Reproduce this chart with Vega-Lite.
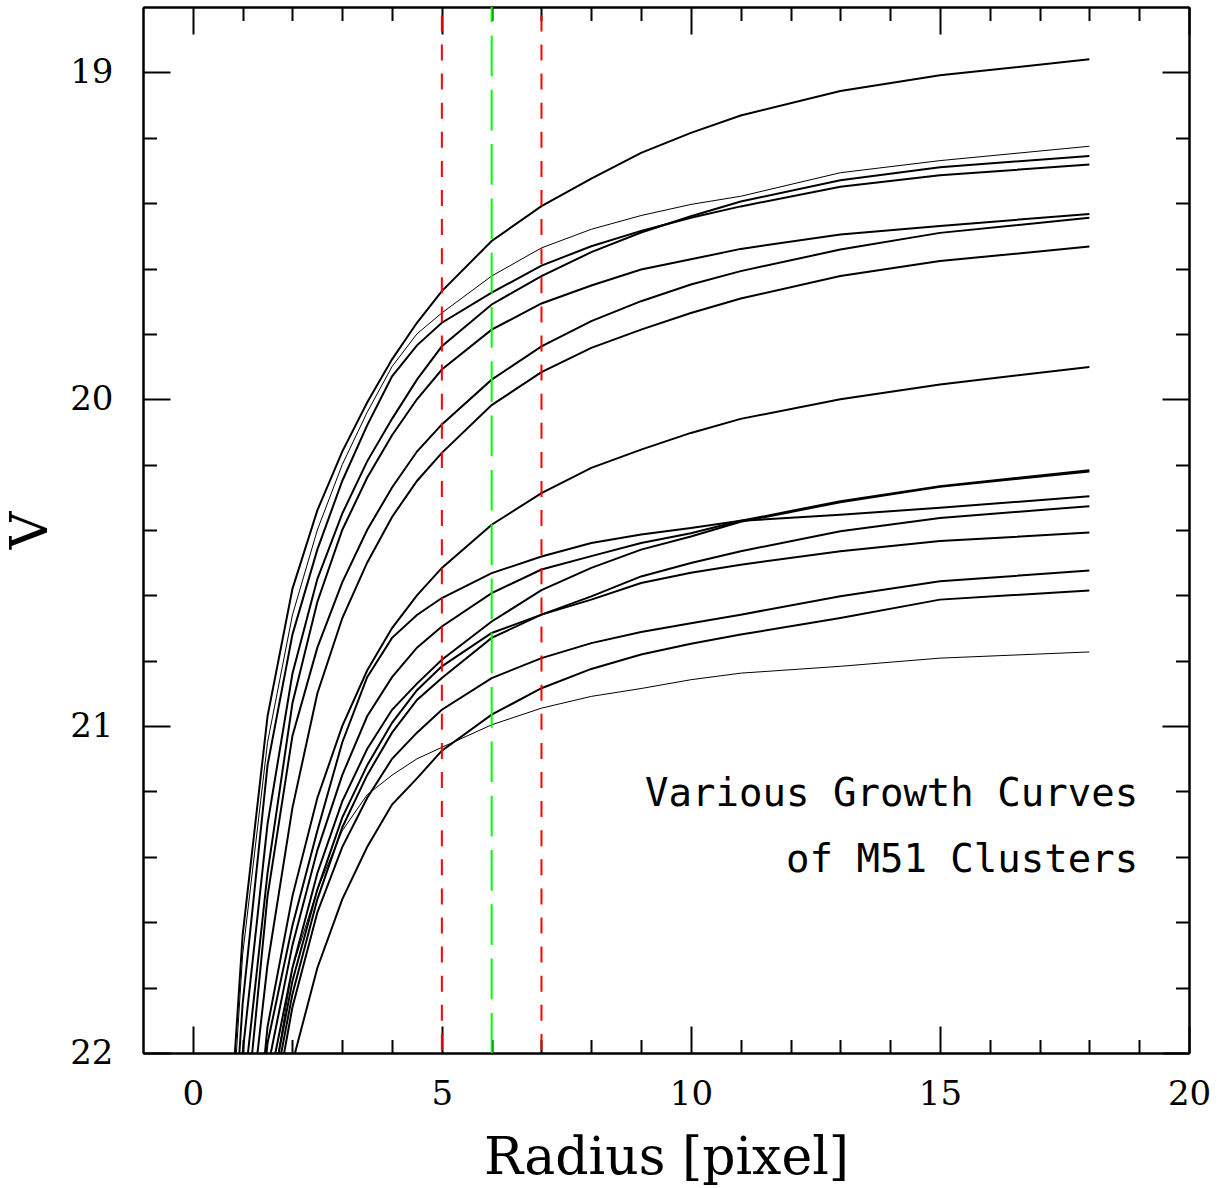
{
  "$schema": "https://vega.github.io/schema/vega-lite/v6.json",
  "width": 1046,
  "height": 1046,
  "autosize": {"type": "none"},
  "padding": {"left": 143, "top": 7, "right": 34, "bottom": 135},
  "background": "white",
  "config": {
    "view": {"stroke": null},
    "axis": {
      "grid": false,
      "domainColor": "black",
      "domainWidth": 2,
      "tickColor": "black",
      "tickWidth": 2,
      "labelColor": "black",
      "labelFont": "DejaVu Serif",
      "labelFontSize": 34,
      "labelFlush": false,
      "labelOverlap": false,
      "labelBound": false,
      "titleColor": "black",
      "titleFont": "DejaVu Serif",
      "titleFontSize": 52,
      "titleFontWeight": "normal"
    }
  },
  "datasets": {
    "growth": [
      {"cluster":"c01","r":0.5,"V":22.80},{"cluster":"c01","r":1,"V":21.64},{"cluster":"c01","r":1.5,"V":20.97},{"cluster":"c01","r":2,"V":20.58},{"cluster":"c01","r":2.5,"V":20.34},{"cluster":"c01","r":3,"V":20.16},{"cluster":"c01","r":3.5,"V":20.01},{"cluster":"c01","r":4,"V":19.878},{"cluster":"c01","r":4.5,"V":19.766},{"cluster":"c01","r":5,"V":19.669},{"cluster":"c01","r":6,"V":19.516},{"cluster":"c01","r":7,"V":19.409},{"cluster":"c01","r":8,"V":19.325},{"cluster":"c01","r":9,"V":19.246},{"cluster":"c01","r":10,"V":19.185},{"cluster":"c01","r":11,"V":19.132},{"cluster":"c01","r":13,"V":19.057},{"cluster":"c01","r":15,"V":19.009},{"cluster":"c01","r":18,"V":18.960},
      {"cluster":"c02","r":0.5,"V":22.90},{"cluster":"c02","r":1,"V":21.70},{"cluster":"c02","r":1.5,"V":21.05},{"cluster":"c02","r":2,"V":20.66},{"cluster":"c02","r":2.5,"V":20.40},{"cluster":"c02","r":3,"V":20.20},{"cluster":"c02","r":3.5,"V":20.04},{"cluster":"c02","r":4,"V":19.90},{"cluster":"c02","r":4.5,"V":19.80},{"cluster":"c02","r":5,"V":19.736},{"cluster":"c02","r":6,"V":19.623},{"cluster":"c02","r":7,"V":19.537},{"cluster":"c02","r":8,"V":19.48},{"cluster":"c02","r":9,"V":19.438},{"cluster":"c02","r":10,"V":19.404},{"cluster":"c02","r":11,"V":19.379},{"cluster":"c02","r":13,"V":19.307},{"cluster":"c02","r":15,"V":19.27},{"cluster":"c02","r":18,"V":19.226},
      {"cluster":"c03","r":0.5,"V":23.10},{"cluster":"c03","r":1,"V":22.00},{"cluster":"c03","r":1.5,"V":21.30},{"cluster":"c03","r":2,"V":20.84},{"cluster":"c03","r":2.5,"V":20.55},{"cluster":"c03","r":3,"V":20.35},{"cluster":"c03","r":3.5,"V":20.19},{"cluster":"c03","r":4,"V":20.06},{"cluster":"c03","r":4.5,"V":19.94},{"cluster":"c03","r":5,"V":19.838},{"cluster":"c03","r":6,"V":19.710},{"cluster":"c03","r":7,"V":19.623},{"cluster":"c03","r":8,"V":19.550},{"cluster":"c03","r":9,"V":19.490},{"cluster":"c03","r":10,"V":19.440},{"cluster":"c03","r":11,"V":19.395},{"cluster":"c03","r":13,"V":19.330},{"cluster":"c03","r":15,"V":19.290},{"cluster":"c03","r":18,"V":19.256},
      {"cluster":"c04","r":0.5,"V":23.00},{"cluster":"c04","r":1,"V":21.85},{"cluster":"c04","r":1.5,"V":21.12},{"cluster":"c04","r":2,"V":20.72},{"cluster":"c04","r":2.5,"V":20.46},{"cluster":"c04","r":3,"V":20.25},{"cluster":"c04","r":3.5,"V":20.08},{"cluster":"c04","r":4,"V":19.93},{"cluster":"c04","r":4.5,"V":19.835},{"cluster":"c04","r":5,"V":19.766},{"cluster":"c04","r":6,"V":19.674},{"cluster":"c04","r":7,"V":19.591},{"cluster":"c04","r":8,"V":19.532},{"cluster":"c04","r":9,"V":19.485},{"cluster":"c04","r":10,"V":19.445},{"cluster":"c04","r":11,"V":19.410},{"cluster":"c04","r":13,"V":19.350},{"cluster":"c04","r":15,"V":19.315},{"cluster":"c04","r":18,"V":19.282},
      {"cluster":"c05","r":0.5,"V":23.30},{"cluster":"c05","r":1,"V":22.15},{"cluster":"c05","r":1.5,"V":21.45},{"cluster":"c05","r":2,"V":20.93},{"cluster":"c05","r":2.5,"V":20.62},{"cluster":"c05","r":3,"V":20.40},{"cluster":"c05","r":3.5,"V":20.24},{"cluster":"c05","r":4,"V":20.11},{"cluster":"c05","r":4.5,"V":20.00},{"cluster":"c05","r":5,"V":19.909},{"cluster":"c05","r":6,"V":19.787},{"cluster":"c05","r":7,"V":19.707},{"cluster":"c05","r":8,"V":19.652},{"cluster":"c05","r":9,"V":19.603},{"cluster":"c05","r":10,"V":19.572},{"cluster":"c05","r":11,"V":19.540},{"cluster":"c05","r":13,"V":19.496},{"cluster":"c05","r":15,"V":19.470},{"cluster":"c05","r":18,"V":19.433},
      {"cluster":"c06","r":0.5,"V":23.50},{"cluster":"c06","r":1,"V":22.30},{"cluster":"c06","r":1.5,"V":21.52},{"cluster":"c06","r":2,"V":21.03},{"cluster":"c06","r":2.5,"V":20.76},{"cluster":"c06","r":3,"V":20.56},{"cluster":"c06","r":3.5,"V":20.40},{"cluster":"c06","r":4,"V":20.27},{"cluster":"c06","r":4.5,"V":20.16},{"cluster":"c06","r":5,"V":20.077},{"cluster":"c06","r":6,"V":19.940},{"cluster":"c06","r":7,"V":19.838},{"cluster":"c06","r":8,"V":19.761},{"cluster":"c06","r":9,"V":19.700},{"cluster":"c06","r":10,"V":19.649},{"cluster":"c06","r":11,"V":19.608},{"cluster":"c06","r":13,"V":19.542},{"cluster":"c06","r":15,"V":19.491},{"cluster":"c06","r":18,"V":19.445},
      {"cluster":"c07","r":0.5,"V":23.60},{"cluster":"c07","r":1,"V":22.40},{"cluster":"c07","r":1.5,"V":21.73},{"cluster":"c07","r":2,"V":21.25},{"cluster":"c07","r":2.5,"V":20.90},{"cluster":"c07","r":3,"V":20.67},{"cluster":"c07","r":3.5,"V":20.50},{"cluster":"c07","r":4,"V":20.36},{"cluster":"c07","r":4.5,"V":20.25},{"cluster":"c07","r":5,"V":20.164},{"cluster":"c07","r":6,"V":20.018},{"cluster":"c07","r":7,"V":19.917},{"cluster":"c07","r":8,"V":19.843},{"cluster":"c07","r":9,"V":19.787},{"cluster":"c07","r":10,"V":19.736},{"cluster":"c07","r":11,"V":19.692},{"cluster":"c07","r":13,"V":19.623},{"cluster":"c07","r":15,"V":19.577},{"cluster":"c07","r":18,"V":19.533},
      {"cluster":"c08","r":0.5,"V":24.00},{"cluster":"c08","r":1,"V":22.70},{"cluster":"c08","r":1.5,"V":21.92},{"cluster":"c08","r":2,"V":21.52},{"cluster":"c08","r":2.5,"V":21.22},{"cluster":"c08","r":3,"V":21.00},{"cluster":"c08","r":3.5,"V":20.83},{"cluster":"c08","r":4,"V":20.70},{"cluster":"c08","r":4.5,"V":20.60},{"cluster":"c08","r":5,"V":20.516},{"cluster":"c08","r":6,"V":20.384},{"cluster":"c08","r":7,"V":20.287},{"cluster":"c08","r":8,"V":20.210},{"cluster":"c08","r":9,"V":20.154},{"cluster":"c08","r":10,"V":20.103},{"cluster":"c08","r":11,"V":20.060},{"cluster":"c08","r":13,"V":20.000},{"cluster":"c08","r":15,"V":19.955},{"cluster":"c08","r":18,"V":19.901},
      {"cluster":"c09","r":0.5,"V":24.10},{"cluster":"c09","r":1,"V":22.85},{"cluster":"c09","r":1.5,"V":22.05},{"cluster":"c09","r":2,"V":21.67},{"cluster":"c09","r":2.5,"V":21.38},{"cluster":"c09","r":3,"V":21.15},{"cluster":"c09","r":3.5,"V":20.97},{"cluster":"c09","r":4,"V":20.85},{"cluster":"c09","r":4.5,"V":20.76},{"cluster":"c09","r":5,"V":20.695},{"cluster":"c09","r":6,"V":20.593},{"cluster":"c09","r":7,"V":20.521},{"cluster":"c09","r":8,"V":20.480},{"cluster":"c09","r":9,"V":20.440},{"cluster":"c09","r":10,"V":20.410},{"cluster":"c09","r":11,"V":20.372},{"cluster":"c09","r":13,"V":20.312},{"cluster":"c09","r":15,"V":20.266},{"cluster":"c09","r":18,"V":20.217},
      {"cluster":"c10","r":0.5,"V":24.20},{"cluster":"c10","r":1,"V":22.95},{"cluster":"c10","r":1.5,"V":22.12},{"cluster":"c10","r":2,"V":21.74},{"cluster":"c10","r":2.5,"V":21.45},{"cluster":"c10","r":3,"V":21.23},{"cluster":"c10","r":3.5,"V":21.07},{"cluster":"c10","r":4,"V":20.95},{"cluster":"c10","r":4.5,"V":20.87},{"cluster":"c10","r":5,"V":20.797},{"cluster":"c10","r":6,"V":20.680},{"cluster":"c10","r":7,"V":20.584},{"cluster":"c10","r":8,"V":20.516},{"cluster":"c10","r":9,"V":20.460},{"cluster":"c10","r":10,"V":20.420},{"cluster":"c10","r":11,"V":20.375},{"cluster":"c10","r":13,"V":20.315},{"cluster":"c10","r":15,"V":20.268},{"cluster":"c10","r":18,"V":20.221},
      {"cluster":"c11","r":0.5,"V":24.00},{"cluster":"c11","r":1,"V":22.75},{"cluster":"c11","r":1.5,"V":21.97},{"cluster":"c11","r":2,"V":21.61},{"cluster":"c11","r":2.5,"V":21.32},{"cluster":"c11","r":3,"V":21.05},{"cluster":"c11","r":3.5,"V":20.85},{"cluster":"c11","r":4,"V":20.73},{"cluster":"c11","r":4.5,"V":20.66},{"cluster":"c11","r":5,"V":20.608},{"cluster":"c11","r":6,"V":20.532},{"cluster":"c11","r":7,"V":20.481},{"cluster":"c11","r":8,"V":20.440},{"cluster":"c11","r":9,"V":20.414},{"cluster":"c11","r":10,"V":20.394},{"cluster":"c11","r":11,"V":20.372},{"cluster":"c11","r":13,"V":20.353},{"cluster":"c11","r":15,"V":20.332},{"cluster":"c11","r":18,"V":20.297},
      {"cluster":"c12","r":0.5,"V":24.30},{"cluster":"c12","r":1,"V":23.05},{"cluster":"c12","r":1.5,"V":22.22},{"cluster":"c12","r":2,"V":21.82},{"cluster":"c12","r":2.5,"V":21.53},{"cluster":"c12","r":3,"V":21.31},{"cluster":"c12","r":3.5,"V":21.15},{"cluster":"c12","r":4,"V":21.02},{"cluster":"c12","r":4.5,"V":20.92},{"cluster":"c12","r":5,"V":20.853},{"cluster":"c12","r":6,"V":20.730},{"cluster":"c12","r":7,"V":20.659},{"cluster":"c12","r":8,"V":20.603},{"cluster":"c12","r":9,"V":20.542},{"cluster":"c12","r":10,"V":20.501},{"cluster":"c12","r":11,"V":20.465},{"cluster":"c12","r":13,"V":20.404},{"cluster":"c12","r":15,"V":20.363},{"cluster":"c12","r":18,"V":20.327},
      {"cluster":"c13","r":0.5,"V":24.20},{"cluster":"c13","r":1,"V":23.00},{"cluster":"c13","r":1.5,"V":22.18},{"cluster":"c13","r":2,"V":21.78},{"cluster":"c13","r":2.5,"V":21.50},{"cluster":"c13","r":3,"V":21.28},{"cluster":"c13","r":3.5,"V":21.12},{"cluster":"c13","r":4,"V":20.99},{"cluster":"c13","r":4.5,"V":20.89},{"cluster":"c13","r":5,"V":20.817},{"cluster":"c13","r":6,"V":20.715},{"cluster":"c13","r":7,"V":20.659},{"cluster":"c13","r":8,"V":20.613},{"cluster":"c13","r":9,"V":20.562},{"cluster":"c13","r":10,"V":20.531},{"cluster":"c13","r":11,"V":20.506},{"cluster":"c13","r":13,"V":20.465},{"cluster":"c13","r":15,"V":20.434},{"cluster":"c13","r":18,"V":20.408},
      {"cluster":"c14","r":0.5,"V":24.40},{"cluster":"c14","r":1,"V":23.10},{"cluster":"c14","r":1.5,"V":22.28},{"cluster":"c14","r":2,"V":21.86},{"cluster":"c14","r":2.5,"V":21.57},{"cluster":"c14","r":3,"V":21.37},{"cluster":"c14","r":3.5,"V":21.22},{"cluster":"c14","r":4,"V":21.10},{"cluster":"c14","r":4.5,"V":21.02},{"cluster":"c14","r":5,"V":20.950},{"cluster":"c14","r":6,"V":20.853},{"cluster":"c14","r":7,"V":20.792},{"cluster":"c14","r":8,"V":20.746},{"cluster":"c14","r":9,"V":20.712},{"cluster":"c14","r":10,"V":20.685},{"cluster":"c14","r":11,"V":20.659},{"cluster":"c14","r":13,"V":20.603},{"cluster":"c14","r":15,"V":20.557},{"cluster":"c14","r":18,"V":20.524},
      {"cluster":"c15","r":0.5,"V":24.60},{"cluster":"c15","r":1,"V":23.40},{"cluster":"c15","r":1.5,"V":22.60},{"cluster":"c15","r":2,"V":22.03},{"cluster":"c15","r":2.5,"V":21.74},{"cluster":"c15","r":3,"V":21.53},{"cluster":"c15","r":3.5,"V":21.37},{"cluster":"c15","r":4,"V":21.24},{"cluster":"c15","r":4.5,"V":21.16},{"cluster":"c15","r":5,"V":21.075},{"cluster":"c15","r":6,"V":20.965},{"cluster":"c15","r":7,"V":20.884},{"cluster":"c15","r":8,"V":20.825},{"cluster":"c15","r":9,"V":20.781},{"cluster":"c15","r":10,"V":20.748},{"cluster":"c15","r":11,"V":20.720},{"cluster":"c15","r":13,"V":20.669},{"cluster":"c15","r":15,"V":20.613},{"cluster":"c15","r":18,"V":20.585},
      {"cluster":"c16","r":0.5,"V":24.00},{"cluster":"c16","r":1,"V":23.00},{"cluster":"c16","r":1.5,"V":22.20},{"cluster":"c16","r":2,"V":21.74},{"cluster":"c16","r":2.5,"V":21.50},{"cluster":"c16","r":3,"V":21.32},{"cluster":"c16","r":3.5,"V":21.21},{"cluster":"c16","r":4,"V":21.15},{"cluster":"c16","r":4.5,"V":21.10},{"cluster":"c16","r":5,"V":21.065},{"cluster":"c16","r":6,"V":20.996},{"cluster":"c16","r":7,"V":20.945},{"cluster":"c16","r":8,"V":20.909},{"cluster":"c16","r":9,"V":20.885},{"cluster":"c16","r":10,"V":20.858},{"cluster":"c16","r":11,"V":20.838},{"cluster":"c16","r":13,"V":20.817},{"cluster":"c16","r":15,"V":20.792},{"cluster":"c16","r":18,"V":20.773}
    ]
  },
  "resolve": {"axis": {"x": "independent", "y": "independent"}},
  "layer": [
    {
      "data": {"name": "growth"},
      "transform": [{"filter": {"not": {"field": "cluster", "oneOf": ["c02", "c16"]}}}],
      "mark": {"type": "line", "clip": true, "color": "black", "strokeWidth": 2},
      "encoding": {
        "x": {
          "field": "r", "type": "quantitative",
          "scale": {"domain": [-1, 20], "nice": false, "zero": false},
          "axis": {"orient": "bottom", "values": [0, 5, 10, 15, 20], "tickSize": -27, "labelPadding": 51, "title": "Radius [pixel]", "titlePadding": 21}
        },
        "y": {
          "field": "V", "type": "quantitative",
          "scale": {"domain": [18.8, 22], "reverse": true, "nice": false, "zero": false},
          "axis": {"orient": "left", "values": [19, 20, 21, 22], "tickSize": -27, "labelPadding": 57, "title": "V", "titlePadding": 12}
        },
        "detail": {"field": "cluster"}
      }
    },
    {
      "data": {"name": "growth"},
      "transform": [{"filter": {"field": "cluster", "oneOf": ["c02", "c16"]}}],
      "mark": {"type": "line", "clip": true, "color": "black", "strokeWidth": 1},
      "encoding": {
        "x": {
          "field": "r", "type": "quantitative",
          "axis": {"orient": "top", "values": [0, 5, 10, 15, 20], "tickSize": -27, "labels": false, "title": null}
        },
        "y": {
          "field": "V", "type": "quantitative",
          "axis": {"orient": "right", "values": [19, 20, 21, 22], "tickSize": -27, "labels": false, "title": null}
        },
        "detail": {"field": "cluster"}
      }
    },
    {
      "data": {"values": [{"r": 5}, {"r": 7}]},
      "mark": {"type": "rule", "color": "#ff0000", "strokeWidth": 2, "strokeDash": [16, 13.1], "strokeDashOffset": 20.7},
      "encoding": {
        "x": {
          "field": "r", "type": "quantitative",
          "axis": {"orient": "bottom", "values": [1, 2, 3, 4, 6, 7, 8, 9, 11, 12, 13, 14, 16, 17, 18, 19], "tickSize": -13.5, "labels": false, "title": null}
        }
      }
    },
    {
      "data": {"values": [{"r": 6}]},
      "mark": {"type": "rule", "color": "#00ff00", "strokeWidth": 2, "strokeDash": [40.7, 13.6], "strokeDashOffset": 25.8},
      "encoding": {
        "x": {
          "field": "r", "type": "quantitative",
          "axis": {"orient": "top", "values": [1, 2, 3, 4, 6, 7, 8, 9, 11, 12, 13, 14, 16, 17, 18, 19], "tickSize": -13.5, "labels": false, "title": null}
        }
      }
    },
    {
      "data": {"values": [{"note": "Various Growth Curves"}]},
      "mark": {"type": "text", "font": "DejaVu Sans Mono", "fontSize": 39, "align": "right", "baseline": "alphabetic", "color": "black"},
      "encoding": {
        "x": {"datum": 18.98, "type": "quantitative", "axis": null},
        "y": {
          "datum": 21.244, "type": "quantitative",
          "axis": {"orient": "left", "values": [19.2, 19.4, 19.6, 19.8, 20.2, 20.4, 20.6, 20.8, 21.2, 21.4, 21.6, 21.8], "tickSize": -13.5, "labels": false, "title": null}
        },
        "text": {"field": "note"}
      }
    },
    {
      "data": {"values": [{"note": "of M51 Clusters"}]},
      "mark": {"type": "text", "font": "DejaVu Sans Mono", "fontSize": 39, "align": "right", "baseline": "alphabetic", "color": "black"},
      "encoding": {
        "x": {"datum": 18.98, "type": "quantitative", "axis": null},
        "y": {
          "datum": 21.446, "type": "quantitative",
          "axis": {"orient": "right", "values": [19.2, 19.4, 19.6, 19.8, 20.2, 20.4, 20.6, 20.8, 21.2, 21.4, 21.6, 21.8], "tickSize": -13.5, "labels": false, "title": null}
        },
        "text": {"field": "note"}
      }
    }
  ]
}
